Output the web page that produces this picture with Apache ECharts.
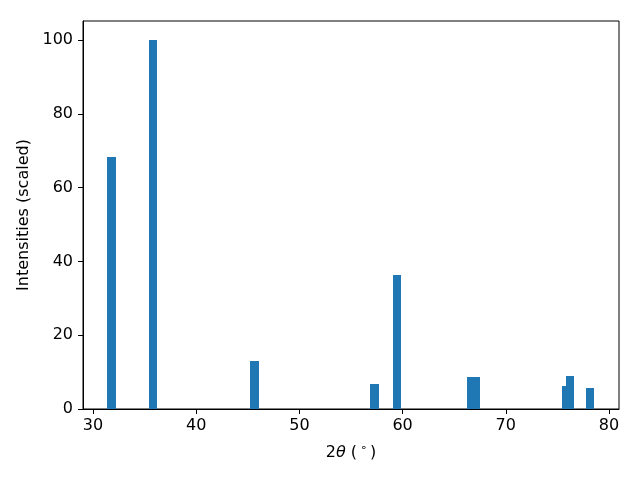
<!DOCTYPE html>
<html>
<head>
<meta charset="utf-8">
<script src="https://cdn.jsdelivr.net/npm/echarts@6/dist/echarts.min.js"></script>
<style>html,body{margin:0;padding:0;background:#fff}#c{width:640px;height:480px}</style>
</head>
<body>
<div id="c"></div>
<script>
const positions = [31.79, 35.81, 45.65, 57.28, 59.46, 66.63, 67.09, 75.83, 76.22, 78.16];
const intensities = [68.3, 100, 13.0, 6.8, 36.3, 8.7, 8.7, 6.2, 8.9, 5.7];
const xTicks = [30, 40, 50, 60, 70, 80];
const yTicks = [0, 20, 40, 60, 80, 100];

const BAR_W = 0.8;
const FONT = 'DejaVu Sans';
const chart = echarts.init(document.getElementById('c'), null, {renderer: 'canvas'});
const data = positions.map((p, i) => [p, intensities[i]]);

chart.setOption({
  animation: false,
  backgroundColor: '#fff',
  grid: {left: 83, right: 21, top: 21, bottom: 71, show: true, borderColor: '#000', borderWidth: 1, backgroundColor: 'transparent'},
  xAxis: {
    type: 'value', min: 29.03, max: 80.97,
    axisLine: {show: true, lineStyle: {color: '#000', width: 1}},
    axisTick: {show: true, inside: false, length: 5, lineStyle: {color: '#000'}, customValues: xTicks},
    axisLabel: {color: '#000', fontFamily: FONT, fontSize: 16, margin: 9, customValues: xTicks},
    splitLine: {show: false},
    name: '{a|2}{b|θ}{a| (}{c|∘}{a|)}',
    nameLocation: 'middle', nameGap: 34,
    nameTextStyle: {
      color: '#000', fontFamily: FONT, fontSize: 16,
      rich: {
        a: {fontFamily: FONT, fontSize: 16, color: '#000'},
        b: {fontFamily: FONT, fontSize: 16, fontStyle: 'italic', color: '#000'},
        c: {fontFamily: FONT, fontSize: 11, color: '#000', padding: [0, 3, 8, 3]}
      }
    }
  },
  yAxis: {
    type: 'value', min: 0, max: 105.15,
    axisLine: {show: true, lineStyle: {color: '#000', width: 1}},
    axisTick: {show: true, inside: false, length: 5, lineStyle: {color: '#000'}, customValues: yTicks},
    axisLabel: {color: '#000', fontFamily: FONT, fontSize: 16, margin: 10, customValues: yTicks},
    splitLine: {show: false},
    name: 'Intensities (scaled)',
    nameLocation: 'middle', nameGap: 47,
    nameTextStyle: {color: '#000', fontFamily: FONT, fontSize: 16}
  },
  series: [{
    type: 'custom',
    data: data,
    encode: {x: 0, y: 1},
    renderItem: function (params, api) {
      const x = api.value(0), y = api.value(1);
      const p0 = api.coord([x - BAR_W / 2, y]);
      const p1 = api.coord([x + BAR_W / 2, 0]);
      const x0 = Math.round(p0[0]), x1 = Math.round(p1[0]);
      const y0 = Math.round(p0[1]), y1 = Math.round(p1[1]);
      return {
        type: 'rect',
        shape: {x: x0, y: y0, width: x1 - x0, height: y1 - y0},
        style: {fill: '#1f77b4', stroke: null}
      };
    }
  }]
});
</script>
</body>
</html>
